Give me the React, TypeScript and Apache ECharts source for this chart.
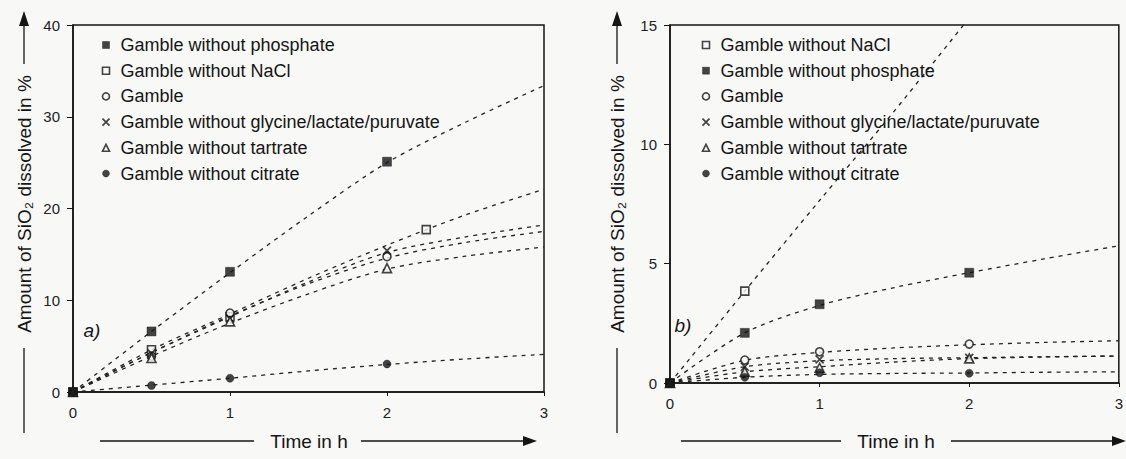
import React, { useEffect, useRef } from "react";
import * as echarts from "echarts";

// ---------- data ----------
const FONT = "Liberation Sans, Arial, Helvetica, sans-serif";

// panel a)
const timeA = [0, 0.5, 1, 2];
const timeNaclA = [0, 0.5, 1, 2.25];
const phosA = [0, 6.6, 13.1, 25.1];
const naclA = [0, 4.6, 8.2, 17.7];
const gambleA = [0, 3.9, 8.6, 14.75];
const glyA = [0, 4.2, 8.0, 15.4];
const tartA = [0, 3.7, 7.7, 13.5];
const citA = [0, 0.7, 1.5, 3.05];

const fitX = [0, 0.5, 1, 1.5, 2, 2.5, 3];
const phosFitA = [0, 6.6, 13.0, 19.2, 25.0, 29.4, 33.4];
const naclFitA = [0, 4.6, 8.5, 12.4, 16.0, 19.3, 22.1];
const gambleFitA = [0, 4.3, 8.3, 11.8, 14.6, 16.3, 17.5];
const glyFitA = [0, 4.3, 8.2, 12.0, 15.2, 16.9, 18.2];
const tartFitA = [0, 3.9, 7.5, 10.7, 13.4, 14.8, 15.8];
const citFitA = [0, 0.75, 1.5, 2.3, 3.0, 3.6, 4.1];

// panel b)
const timeB = [0, 0.5, 1, 2];
const timeNaclB = [0, 0.5];
const naclB = [0, 3.85];
const phosB = [0, 2.1, 3.3, 4.62];
const gambleB = [0, 0.96, 1.31, 1.63];
const glyB = [0, 0.68, 0.99, 1.05];
const tartB = [0, 0.47, 0.64, 1.03];
const citB = [0, 0.24, 0.43, 0.41];

const naclFitXB = [0, 0.5, 1, 1.5, 2];
const naclFitB = [0, 3.85, 7.65, 11.4, 15.3];
const phosFitB = [0, 2.1, 3.25, 4.0, 4.62, 5.2, 5.75];
const gambleFitB = [0, 0.95, 1.28, 1.47, 1.6, 1.7, 1.77];
const glyFitB = [0, 0.68, 0.93, 1.02, 1.06, 1.1, 1.13];
const tartFitB = [0, 0.47, 0.68, 0.88, 1.02, 1.09, 1.13];
const citFitB = [0, 0.24, 0.36, 0.4, 0.42, 0.45, 0.47];

const namePhos = "Gamble without phosphate";
const nameNacl = "Gamble without NaCl";
const nameGamble = "Gamble";
const nameGly = "Gamble without glycine/lactate/puruvate";
const nameTart = "Gamble without tartrate";
const nameCit = "Gamble without citrate";

const legendOrderA = [namePhos, nameNacl, nameGamble, nameGly, nameTart, nameCit];
const legendOrderB = [nameNacl, namePhos, nameGamble, nameGly, nameTart, nameCit];

const BG = "#f8f8f7";
const INK = "#151515";
const CROSS = "path://M0,0L10,10M0,10L10,0";

const styles: Record<string, any> = {
  [namePhos]: { symbol: "rect", size: 9, itemStyle: { color: INK, borderColor: INK, borderWidth: 0.5 } },
  [nameNacl]: { symbol: "rect", size: 8, itemStyle: { color: BG, borderColor: INK, borderWidth: 1.6 } },
  [nameGamble]: { symbol: "circle", size: 8, itemStyle: { color: BG, borderColor: INK, borderWidth: 1.6 } },
  [nameGly]: { symbol: CROSS, size: 8, itemStyle: { color: "none", borderColor: INK, borderWidth: 1.7 } },
  [nameTart]: { symbol: "triangle", size: 9, itemStyle: { color: BG, borderColor: INK, borderWidth: 1.6 } },
  [nameCit]: { symbol: "circle", size: 8, itemStyle: { color: INK, borderColor: INK, borderWidth: 0.5 } },
};

const zip = (xs: number[], ys: number[]) => ys.map((y, i) => [xs[i], y]);

function scatter(name: string, xs: number[], ys: number[], idx: number) {
  const s = styles[name];
  return {
    type: "scatter",
    name,
    xAxisIndex: idx,
    yAxisIndex: idx,
    data: zip(xs, ys),
    symbol: s.symbol,
    symbolSize: s.size,
    itemStyle: s.itemStyle,
    z: 5,
    silent: true,
  };
}

function fit(xs: number[], ys: number[], idx: number) {
  return {
    type: "line",
    xAxisIndex: idx,
    yAxisIndex: idx,
    data: zip(xs, ys),
    symbol: "none",
    showSymbol: false,
    smooth: 0.3,
    clip: true,
    lineStyle: { color: "#222", width: 1.3, type: [4, 5] },
    z: 2,
    silent: true,
  };
}

function legend(order: string[], left: number) {
  return {
    orient: "vertical",
    left,
    top: 36,
    padding: 0,
    itemWidth: 7,
    itemHeight: 7,
    itemGap: 7.7,
    selectedMode: false,
    textStyle: { fontSize: 18, fontFamily: FONT, color: INK, padding: [0, 0, 0, 6] },
    data: order.map((n) => ({ name: n, icon: styles[n].symbol, itemStyle: styles[n].itemStyle })),
  };
}

function xAxis(idx: number) {
  return {
    gridIndex: idx,
    type: "value",
    min: 0,
    max: 3,
    interval: 1,
    axisLine: { show: true, onZero: false, lineStyle: { color: INK, width: 1.5 } },
    axisTick: { show: true, length: 4, lineStyle: { color: INK, width: 1 } },
    axisLabel: { fontSize: 15, fontFamily: FONT, color: "#222", margin: 13 },
    splitLine: { show: false },
  };
}

function yAxis(idx: number, max: number, interval: number) {
  return {
    gridIndex: idx,
    type: "value",
    min: 0,
    max,
    interval,
    axisLine: { show: true, onZero: false, lineStyle: { color: INK, width: 1.5 } },
    axisTick: { show: true, length: 6, lineStyle: { color: INK, width: 1 } },
    axisLabel: { fontSize: 15, fontFamily: FONT, color: "#222", margin: 13 },
    splitLine: { show: false },
  };
}

function yTitle(x: number) {
  const lineStyle = { stroke: INK, lineWidth: 1.3 };
  return [
    {
      type: "text",
      x,
      y: 204,
      rotation: Math.PI / 2,
      style: {
        text: "Amount of SiO\u2082 dissolved in %",
        font: `19px ${FONT}`,
        fill: INK,
        align: "center",
        verticalAlign: "middle",
      },
    },
    { type: "line", shape: { x1: x, y1: 348, x2: x, y2: 433 }, style: lineStyle },
    { type: "line", shape: { x1: x, y1: 64, x2: x, y2: 24 }, style: lineStyle },
    { type: "polygon", shape: { points: [[x, 11], [x - 5, 26], [x + 5, 26]] }, style: { fill: INK } },
  ];
}

function xTitle(l1: number, l2: number, cx: number, r1: number, r2: number) {
  const y = 441;
  const lineStyle = { stroke: INK, lineWidth: 1.3 };
  return [
    { type: "line", shape: { x1: l1, y1: y, x2: l2, y2: y }, style: lineStyle },
    {
      type: "text",
      x: cx,
      y,
      style: { text: "Time in h", font: `19px ${FONT}`, fill: INK, align: "center", verticalAlign: "middle" },
    },
    { type: "line", shape: { x1: r1, y1: y, x2: r2 - 12, y2: y }, style: lineStyle },
    { type: "polygon", shape: { points: [[r2, y], [r2 - 14, y - 5], [r2 - 14, y + 5]] }, style: { fill: INK } },
  ];
}

export default function App() {
  const ref = useRef<HTMLDivElement>(null);
  useEffect(() => {
    if (!ref.current) return;
    const chart = echarts.init(ref.current, null, { renderer: "svg" });
    const series: any[] = [
      fit(fitX, phosFitA, 0),
      fit(fitX, naclFitA, 0),
      fit(fitX, gambleFitA, 0),
      fit(fitX, glyFitA, 0),
      fit(fitX, tartFitA, 0),
      fit(fitX, citFitA, 0),
      scatter(nameNacl, timeNaclA, naclA, 0),
      scatter(nameGamble, timeA, gambleA, 0),
      scatter(nameGly, timeA, glyA, 0),
      scatter(nameTart, timeA, tartA, 0),
      scatter(nameCit, timeA, citA, 0),
      scatter(namePhos, timeA, phosA, 0),
      fit(naclFitXB, naclFitB, 1),
      fit(fitX, phosFitB, 1),
      fit(fitX, gambleFitB, 1),
      fit(fitX, glyFitB, 1),
      fit(fitX, tartFitB, 1),
      fit(fitX, citFitB, 1),
      scatter(nameNacl, timeNaclB, naclB, 1),
      scatter(nameGamble, timeB, gambleB, 1),
      scatter(nameGly, timeB, glyB, 1),
      scatter(nameTart, timeB, tartB, 1),
      scatter(nameCit, timeB, citB, 1),
      scatter(namePhos, timeB, phosB, 1),
    ];
    chart.setOption({
      animation: false,
      backgroundColor: BG,
      textStyle: { fontFamily: FONT },
      grid: [
        { left: 73, top: 25, width: 471, height: 367, show: true, borderColor: INK, borderWidth: 1.5, backgroundColor: "transparent" },
        { left: 670, top: 25, width: 456, height: 358, show: true, borderColor: INK, borderWidth: 1.5, backgroundColor: "transparent" },
      ],
      xAxis: [xAxis(0), xAxis(1)],
      yAxis: [yAxis(0, 40, 10), yAxis(1, 15, 5)],
      legend: [legend(legendOrderA, 100), legend(legendOrderB, 700)],
      graphic: [
        ...yTitle(24),
        ...yTitle(617),
        ...xTitle(100, 254, 309, 361, 537),
        ...xTitle(681, 841, 896, 951, 1126),
        {
          type: "text",
          x: 92,
          y: 330,
          style: { text: "a)", font: `italic 19px ${FONT}`, fill: INK, align: "center", verticalAlign: "middle" },
        },
        {
          type: "text",
          x: 683,
          y: 325,
          style: { text: "b)", font: `italic 19px ${FONT}`, fill: INK, align: "center", verticalAlign: "middle" },
        },
      ],
      series,
    });
    return () => chart.dispose();
  }, []);
  return (
    <div
      ref={ref}
      style={{ position: "fixed", left: 0, top: 0, width: 1126, height: 459 }}
    />
  );
}
